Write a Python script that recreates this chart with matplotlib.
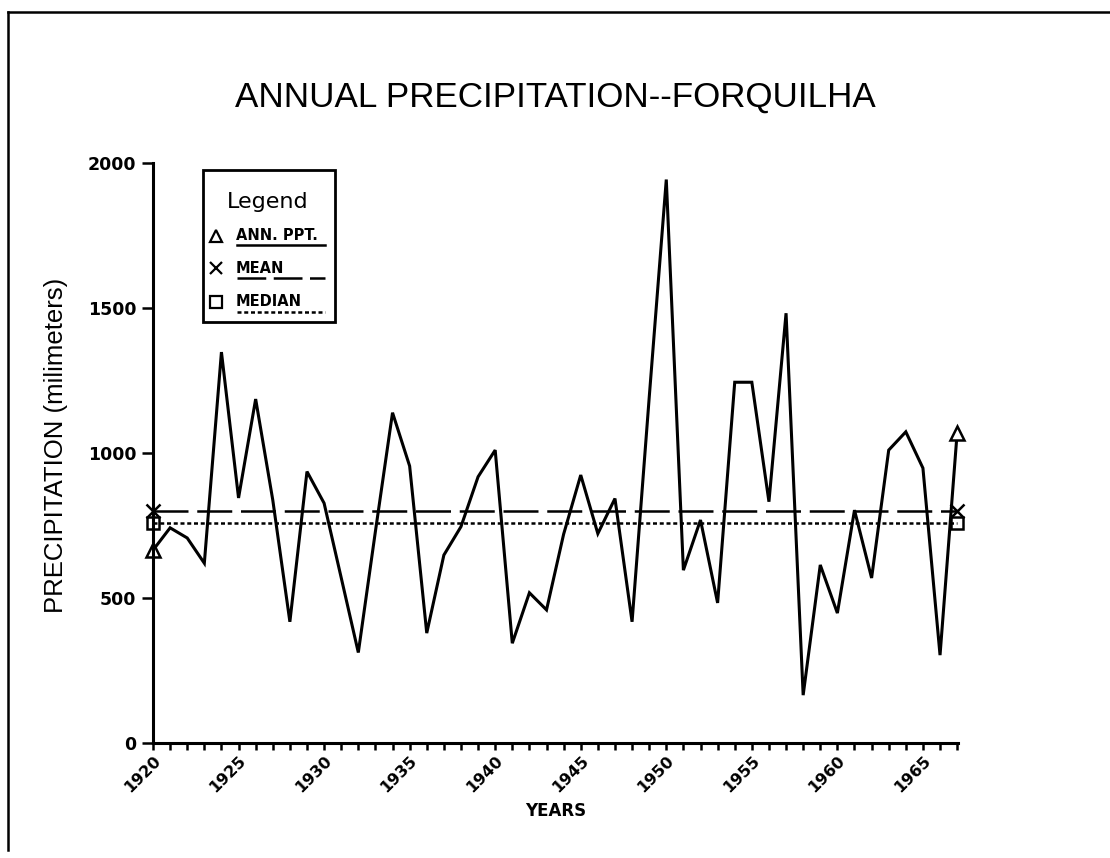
import numpy as np
import matplotlib
matplotlib.use("Agg")
import matplotlib.pyplot as plt
from matplotlib.lines import Line2D
from matplotlib.patches import Rectangle

# -----------------------
# Data
# -----------------------
years = list(range(1920, 1968))
ppt = [665, 742, 707, 620, 1348, 845, 1186, 838, 418, 936,
       827, 570, 312, 730, 1139, 955, 379, 648, 746, 918,
       1010, 344, 518, 459, 720, 924, 722, 843, 418, 1190,
       1943, 596, 769, 483, 1244, 1244, 832, 1482, 165, 614,
       448, 803, 569, 1010, 1073, 948, 303, 1070]
mean_ppt = 800
median_ppt = 757

y_ticks = [0, 500, 1000, 1500, 2000]
x_labels = [1920, 1925, 1930, 1935, 1940, 1945, 1950, 1955, 1960, 1965]

W, H = 1110, 858
fig = plt.figure(figsize=(W / 100, H / 100), dpi=100)


def px(x, y):
    # pixel position -> figure fraction
    return x / W, 1 - y / H


# axes box: x 153..958, y 163..743 px
ax = fig.add_axes([153 / W, 1 - 743 / H, (958 - 153) / W, (743 - 163) / H])
ax.set_xlim(years[0], years[-1] + 0.05)
ax.set_ylim(0, 2000)

lw_data = 2.2
lw_ref = 1.8
mean_dash = (14, 3.5)
median_dash = (1.6, 1.1)

ax.plot(years, ppt, color="black", lw=lw_data, solid_joinstyle="miter", clip_on=False)
ax.plot([years[0], years[-1]], [ppt[0], ppt[-1]], ls="none", marker="^",
        ms=10, mfc="white", mec="black", mew=1.8, clip_on=False)

ax.plot([years[0], years[-1]], [mean_ppt, mean_ppt], color="black", lw=lw_ref,
        dashes=mean_dash, clip_on=False)
ax.plot([years[0], years[-1]], [mean_ppt, mean_ppt], ls="none", marker="x",
        ms=10, mec="black", mew=1.8, clip_on=False)
ax.plot([years[0], years[-1]], [median_ppt, median_ppt], color="black", lw=lw_ref,
        dashes=median_dash, clip_on=False)
ax.plot([years[0], years[-1]], [median_ppt, median_ppt], ls="none", marker="s",
        ms=9, mfc="none", mec="black", mew=1.8, clip_on=False)

# spines and ticks
for s in ["top", "right"]:
    ax.spines[s].set_visible(False)
ax.spines["left"].set_linewidth(2.2)
ax.spines["bottom"].set_linewidth(2.2)

ax.set_yticks(y_ticks)
ax.set_yticklabels([str(v) for v in y_ticks], fontsize=12.5, fontweight="bold")
ax.tick_params(axis="y", direction="out", length=8, width=1.8, pad=4)

ax.set_xticks(years, minor=True)
ax.set_xticks(x_labels)
ax.set_xticklabels([str(v) for v in x_labels], fontsize=11.5, fontweight="bold",
                   rotation=45, ha="right", va="top", rotation_mode="anchor")
ax.tick_params(axis="x", which="both", direction="out", length=5, width=1.8, pad=2)

ax.set_ylabel("PRECIPITATION (milimeters)", fontsize=18.5, family="Liberation Sans")
ax.yaxis.set_label_coords(-0.105, 0.514)
ax.set_xlabel("YEARS", fontsize=12, fontweight="bold")
ax.xaxis.set_label_coords(0.5, -0.102)

fig.text(*px(555, 97), "ANNUAL PRECIPITATION--FORQUILHA", ha="center", va="center",
         fontsize=25.2, family="Liberation Sans")

# -----------------------
# Legend box (drawn by hand)
# -----------------------
x0, y0 = px(203, 322)
x1, y1 = px(335, 170)
fig.patches.append(Rectangle((x0, y0), x1 - x0, y1 - y0, transform=fig.transFigure,
                             fill=True, facecolor="white", edgecolor="black", lw=2, zorder=5))
fig.text(*px(268, 202), "Legend", ha="center", va="center", fontsize=16, zorder=6)

entries = [("^", "ANN. PPT.", 236, 245, "solid"),
           ("x", "MEAN", 268, 278, "dashed"),
           ("s", "MEDIAN", 302, 312, "dotted")]
for mk, label, ty, uy, style in entries:
    mx, my = px(216, ty)
    fig.add_artist(Line2D([mx], [my], marker=mk, ms=8, mfc="none", mec="black", mew=1.6,
                          ls="none", transform=fig.transFigure, zorder=6))
    fig.text(*px(236, ty), label, ha="left", va="center", fontsize=10.5,
             fontweight="bold", zorder=6)
    ux0, uy0 = px(237, uy)
    ux1, _ = px(325, uy)
    ln = Line2D([ux0, ux1], [uy0, uy0], color="black", lw=1.8, transform=fig.transFigure,
                zorder=6)
    if style == "dashed":
        ln.set_dashes((11.5, 3))
    elif style == "dotted":
        ln.set_dashes(median_dash)
    fig.add_artist(ln)

# page frame (top and left edges)
fig.add_artist(Line2D([8 / W, 1], [1 - 12 / H, 1 - 12 / H], color="black", lw=1.8,
                      transform=fig.transFigure))
fig.add_artist(Line2D([8 / W, 8 / W], [1 - 12 / H, 1 - 850 / H], color="black", lw=1.8,
                      transform=fig.transFigure))

fig.savefig("out.png", dpi=100)
